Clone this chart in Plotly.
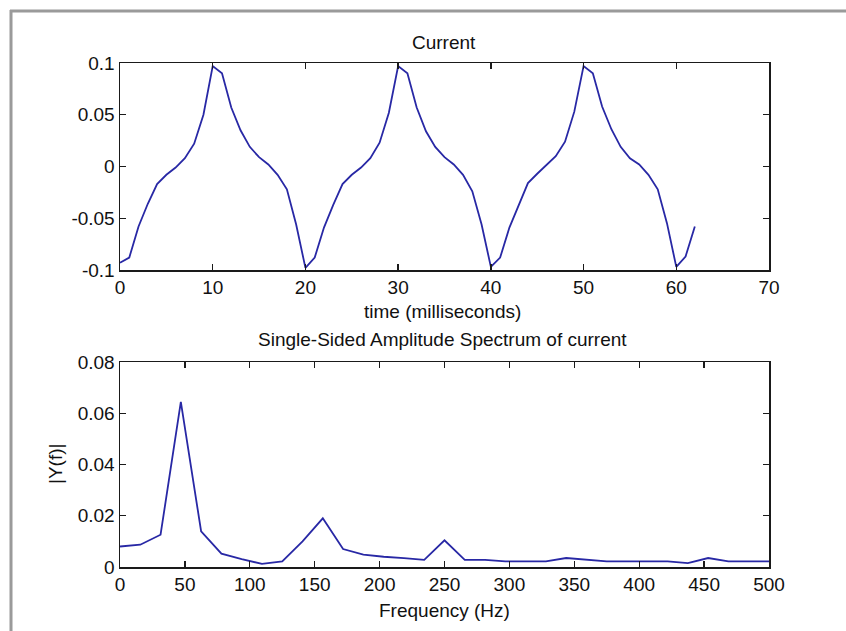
import plotly.graph_objects as go

# ---------------- data ----------------
time_ms = [0, 1, 2, 3, 4, 5, 6, 7, 8, 9, 10, 11, 12, 13, 14, 15, 16, 17, 18, 19,
           20, 21, 22, 23, 24, 25, 26, 27, 28, 29, 30, 31, 32, 33, 34, 35, 36, 37, 38, 39,
           40, 41, 42, 43, 44, 45, 46, 47, 48, 49, 50, 51, 52, 53, 54, 55, 56, 57, 58, 59,
           60, 61, 62]
current = [-0.093, -0.088, -0.058, -0.036, -0.017, -0.008, -0.001, 0.008, 0.022, 0.050,
           0.097, 0.090, 0.057, 0.035, 0.019, 0.009, 0.002, -0.008, -0.022, -0.056,
           -0.098, -0.088, -0.059, -0.037, -0.017, -0.008, -0.001, 0.008, 0.023, 0.052,
           0.097, 0.090, 0.057, 0.034, 0.019, 0.009, 0.002, -0.008, -0.024, -0.056,
           -0.097, -0.088, -0.059, -0.037, -0.016, -0.007, 0.002, 0.010, 0.024, 0.053,
           0.097, 0.090, 0.058, 0.036, 0.019, 0.008, 0.002, -0.008, -0.022, -0.055,
           -0.097, -0.087, -0.058]

freq_hz = [0, 15.625, 31.25, 46.875, 62.5, 78.125, 93.75, 109.375, 125, 140.625,
           156.25, 171.875, 187.5, 203.125, 218.75, 234.375, 250, 265.625, 281.25,
           296.875, 312.5, 328.125, 343.75, 359.375, 375, 390.625, 406.25, 421.875,
           437.5, 453.125, 468.75, 484.375, 500]
amplitude = [0.0080, 0.0087, 0.0126, 0.0644, 0.0139, 0.0052, 0.0031, 0.0012, 0.0022,
             0.0100, 0.0190, 0.0070, 0.0048, 0.0040, 0.0035, 0.0028, 0.0104, 0.0028,
             0.0028, 0.0022, 0.0022, 0.0022, 0.0035, 0.0028, 0.0022, 0.0022, 0.0022,
             0.0022, 0.0015, 0.0035, 0.0022, 0.0022, 0.0022]

top_xticks = [0, 10, 20, 30, 40, 50, 60, 70]
top_yticks = [-0.1, -0.05, 0, 0.05, 0.1]
top_yticklabels = ["-0.1", "-0.05", "0", "0.05", "0.1"]
bot_xticks = [0, 50, 100, 150, 200, 250, 300, 350, 400, 450, 500]
bot_yticks = [0, 0.02, 0.04, 0.06, 0.08]
bot_yticklabels = ["0", "0.02", "0.04", "0.06", "0.08"]

title_top = "Current"
xlabel_top = "time (milliseconds)"
title_bot = "Single-Sided Amplitude Spectrum of current"
xlabel_bot = "Frequency (Hz)"
ylabel_bot = "|Y(f)|"

# ---------------- figure ----------------
W, H = 846, 631
FONT = "Liberation Sans, Arial, Helvetica, sans-serif"
FS = 19
LINE = "rgb(40,40,165)"

def px(x):
    return x / W

def py(y):
    return 1 - y / H

fig = go.Figure()
fig.add_trace(go.Scatter(x=time_ms, y=current, mode="lines",
                         line=dict(color=LINE, width=1.8), xaxis="x", yaxis="y",
                         showlegend=False, hoverinfo="skip"))
fig.add_trace(go.Scatter(x=freq_hz, y=amplitude, mode="lines",
                         line=dict(color=LINE, width=1.8), xaxis="x2", yaxis="y2",
                         showlegend=False, hoverinfo="skip"))

axis_common = dict(showline=True, linecolor="#1a1a1a", linewidth=1.5, mirror="ticks",
                   ticks="inside", ticklen=6, tickwidth=1.3, tickcolor="#1a1a1a",
                   showgrid=False, zeroline=False, automargin=False,
                   tickfont=dict(family=FONT, size=FS, color="#111"))

fig.update_layout(
    template="none",
    width=W, height=H, autosize=False,
    margin=dict(l=0, r=0, t=0, b=0, pad=0),
    paper_bgcolor="white", plot_bgcolor="white",
    hovermode=False,
    xaxis=dict(domain=[px(120), px(769)], range=[0, 70], tickvals=top_xticks,
               anchor="y", **axis_common),
    yaxis=dict(domain=[py(270), py(63)], range=[-0.1, 0.1], tickvals=top_yticks,
               ticktext=top_yticklabels, anchor="x", **axis_common),
    xaxis2=dict(domain=[px(120), px(769)], range=[0, 500], tickvals=bot_xticks,
                anchor="y2", **axis_common),
    yaxis2=dict(domain=[py(567), py(362)], range=[0, 0.08], tickvals=bot_yticks,
                ticktext=bot_yticklabels, anchor="x2", **axis_common),
)

ann_font = dict(family=FONT, size=FS, color="#111")
annotations = [
    dict(text=title_top, x=px(444), y=py(42)),
    dict(text=xlabel_top, x=px(442), y=py(312)),
    dict(text=title_bot, x=px(442), y=py(339)),
    dict(text=xlabel_bot, x=px(444), y=py(610)),
]
for a in annotations:
    fig.add_annotation(xref="paper", yref="paper", xanchor="center", yanchor="middle",
                       showarrow=False, font=ann_font, **a)
fig.add_annotation(text=ylabel_bot, xref="paper", yref="paper", x=px(55), y=py(464),
                   xanchor="center", yanchor="middle", textangle=-90, showarrow=False,
                   font=ann_font)

# grey outer frame (left and top edges)
fig.add_shape(type="line", xref="paper", yref="paper", x0=px(11), x1=px(11),
              y0=0, y1=py(10), line=dict(color="#9a9a9a", width=3))
fig.add_shape(type="line", xref="paper", yref="paper", x0=px(10), x1=1,
              y0=py(11), y1=py(11), line=dict(color="#9a9a9a", width=3))

fig.write_html("out.html",
               config={"displayModeBar": False, "staticPlot": True},
               post_script="document.body.style.margin='0';"
                           "document.body.style.overflow='hidden';")
